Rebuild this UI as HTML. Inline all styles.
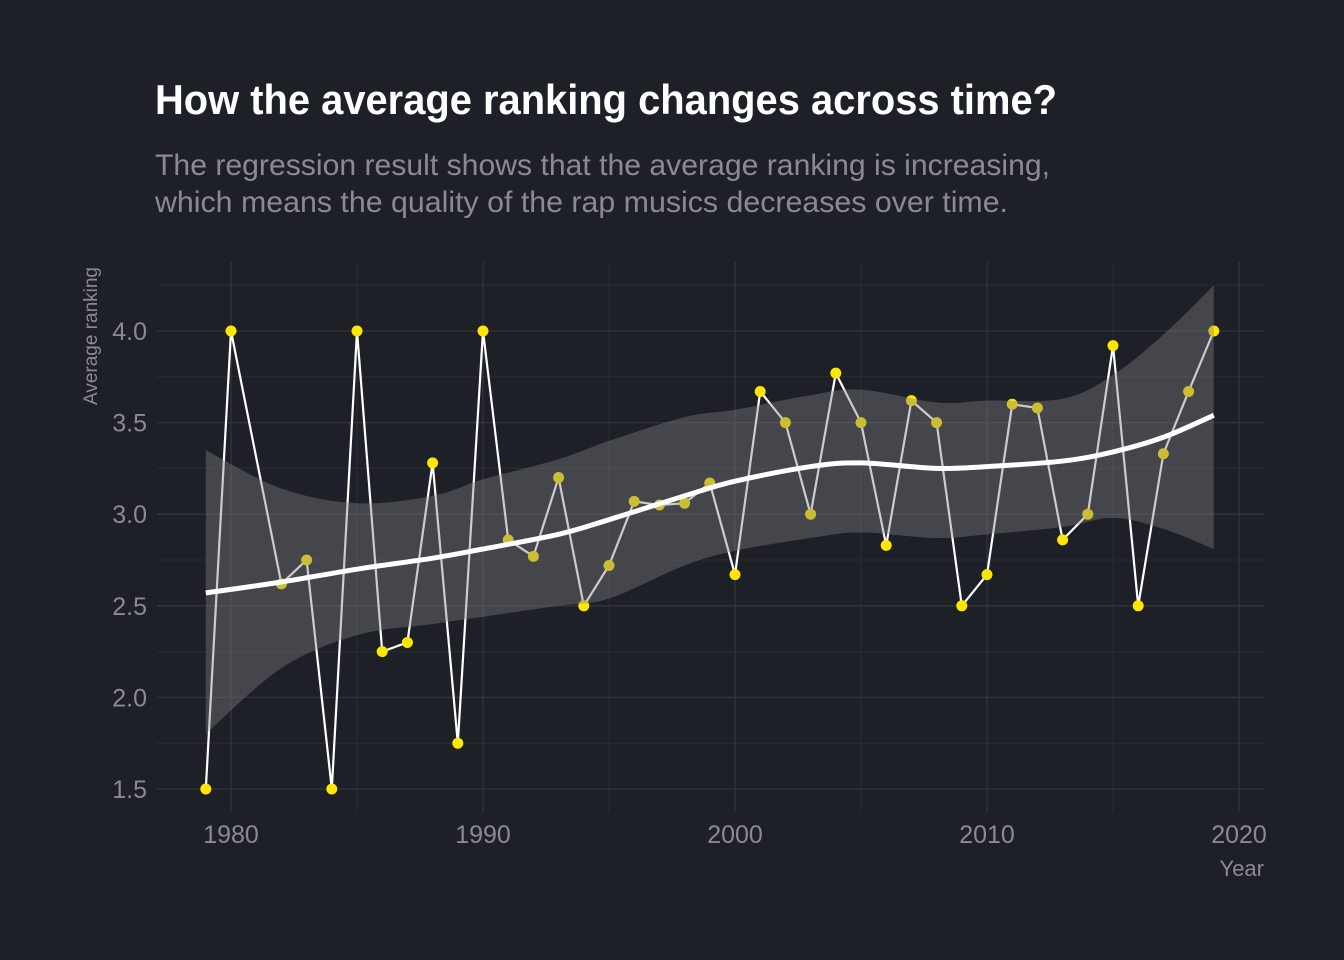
<!DOCTYPE html>
<html><head><meta charset="utf-8"><style>
html,body{margin:0;padding:0;background:#1e2028;}
svg{display:block;font-family:"Liberation Sans",sans-serif;}
</style></head><body>
<svg id="chart" width="1344" height="960" viewBox="0 0 1344 960" xmlns="http://www.w3.org/2000/svg">
<rect width="1344" height="960" fill="#1e2028"/>
<text x="155" y="114" fill="#ffffff" font-size="42" font-weight="bold" textLength="902" lengthAdjust="spacingAndGlyphs">How the average ranking changes across time?</text>
<text x="155" y="175" fill="#8a8b91" font-size="30" textLength="895" lengthAdjust="spacingAndGlyphs">The regression result shows that the average ranking is increasing,</text>
<text x="155" y="212" fill="#8a8b91" font-size="30" textLength="853" lengthAdjust="spacingAndGlyphs">which means the quality of the rap musics decreases over time.</text>
<g id="grid"></g>
<g id="marks"></g>
<g id="axes"></g>
<text x="97" y="336" fill="#8a8b91" font-size="19" text-anchor="middle" transform="rotate(-90 97 336)">Average ranking</text>
<text x="1264" y="876" fill="#8a8b91" font-size="22" text-anchor="end">Year</text>
</svg>
<script>
const years = [1979,1980,1982,1983,1984,1985,1986,1987,1988,1989,1990,1991,1992,1993,1994,1995,1996,1997,1998,1999,2000,2001,2002,2003,2004,2005,2006,2007,2008,2009,2010,2011,2012,2013,2014,2015,2016,2017,2018,2019];
const rankings = [1.5,4.0,2.62,2.75,1.5,4.0,2.25,2.3,3.28,1.75,4.0,2.86,2.77,3.2,2.5,2.72,3.07,3.05,3.06,3.17,2.67,3.67,3.5,3.0,3.77,3.5,2.83,3.62,3.5,2.5,2.67,3.6,3.58,2.86,3.0,3.92,2.5,3.33,3.67,4.0];
const fitYears = [1979,1982,1985,1988,1990,1993,1995,1998,2000,2003,2005,2008,2010,2013,2015,2017,2019];
const fitValues = [2.57,2.63,2.70,2.76,2.81,2.89,2.97,3.10,3.18,3.26,3.28,3.25,3.26,3.29,3.34,3.42,3.54];
const fitUpper = [3.35,3.14,3.06,3.10,3.19,3.30,3.40,3.53,3.57,3.65,3.68,3.61,3.62,3.63,3.76,3.98,4.25];
const fitLower = [1.80,2.16,2.34,2.40,2.44,2.50,2.54,2.72,2.80,2.87,2.90,2.87,2.89,2.93,2.98,2.92,2.81];
const xTicks = [1980,1990,2000,2010,2020];
const xMinor = [1985,1995,2005,2015];
const yTicks = [1.5,2.0,2.5,3.0,3.5,4.0];
const yMinor = [1.75,2.25,2.75,3.25,3.75,4.25];

const X = y => 231 + (y-1980)*25.2;
const Y = v => 789 - (v-1.5)*183.2;
const NS = "http://www.w3.org/2000/svg";
function mk(tag, attrs, parent){const e=document.createElementNS(NS,tag);for(const k in attrs)e.setAttribute(k,attrs[k]);parent.appendChild(e);return e;}
const grid=document.getElementById('grid'), marks=document.getElementById('marks'), axes=document.getElementById('axes');
const L=157,R=1264,T=262,B=812;
yMinor.forEach(v=>{const e=mk('line',{x1:L,x2:R,y1:Y(v),y2:Y(v),stroke:'#2a2c33','stroke-width':1},grid);

});
xMinor.forEach(v=>{const e=mk('line',{x1:X(v),x2:X(v),y1:T,y2:B,stroke:'#2a2c33','stroke-width':1},grid);

});
yTicks.forEach(v=>{const e=mk('line',{x1:L,x2:R,y1:Y(v),y2:Y(v),stroke:'#32343c','stroke-width':1.3},grid);


const t=mk('text',{x:147,y:Y(v)+9,fill:'#8a8b91','font-size':25,'text-anchor':'end'},axes);t.textContent=v.toFixed(1);

});
xTicks.forEach(v=>{const e=mk('line',{x1:X(v),x2:X(v),y1:T,y2:B,stroke:'#32343c','stroke-width':1.3},grid);


const t=mk('text',{x:X(v),y:843,fill:'#8a8b91','font-size':25,'text-anchor':'middle'},axes);t.textContent=v;

});

const pl=mk('polyline',{points:years.map((y,i)=>X(y)+','+Y(rankings[i])).join(' '),fill:'none',stroke:'#ffffff','stroke-width':2.2},marks);


years.forEach((y,i)=>{const c=mk('circle',{cx:X(y),cy:Y(rankings[i]),r:5.5,fill:'#ffe600'},marks);

});

function smooth(pts){let d='M'+pts[0][0]+','+pts[0][1];for(let i=0;i<pts.length-1;i++){const p0=pts[Math.max(0,i-1)],p1=pts[i],p2=pts[i+1],p3=pts[Math.min(pts.length-1,i+2)];
d+=' C'+(p1[0]+(p2[0]-p0[0])/6)+','+(p1[1]+(p2[1]-p0[1])/6)+' '+(p2[0]-(p3[0]-p1[0])/6)+','+(p2[1]-(p3[1]-p1[1])/6)+' '+p2[0]+','+p2[1];}return d;}
const up=fitYears.map((y,i)=>[X(y),Y(fitUpper[i])]);
const lo=fitYears.map((y,i)=>[X(y),Y(fitLower[i])]).reverse();
const band=mk('path',{d:smooth(up)+' L'+smooth(lo).slice(1)+' Z',fill:'#808080','fill-opacity':0.4},marks);


const fit=mk('path',{d:smooth(fitYears.map((y,i)=>[X(y),Y(fitValues[i])])),fill:'none',stroke:'#ffffff','stroke-width':5},marks);


</script>
</body></html>
